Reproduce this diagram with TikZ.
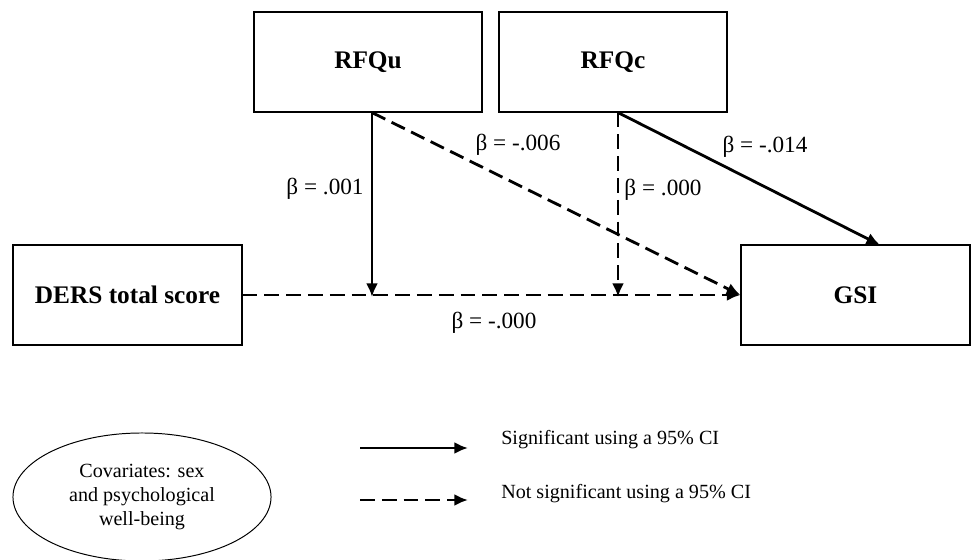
\documentclass[tikz,border=0pt]{standalone}
\usepackage{fontspec}
\setmainfont{Liberation Serif}
\usetikzlibrary{arrows.meta, shapes.geometric}

\tikzset{
  varbox/.style={draw, line width=0.8pt, minimum width=5.7cm, minimum height=2.5cm, inner sep=0pt, font=\fontsize{18}{22}\selectfont\bfseries},
  sigpath/.style={line width=2pt, -{Latex[length=3.4mm, width=3mm]}},
  nspath/.style={sigpath, dash pattern=on 10.5pt off 5pt},
  coef/.style={font=\fontsize{16.5}{20}\selectfont, inner sep=1pt},
  legtext/.style={font=\fontsize{14.3}{17}\selectfont, anchor=west, inner sep=0pt}
}

\begin{document}
\begin{tikzpicture}[x=0.025cm, y=-0.025cm]
  \useasboundingbox (0,0) rectangle (973,559);
  % variables
  \node[varbox] (RFQu) at (368,62) {RFQu};
  \node[varbox] (RFQc) at (613,62) {RFQc};
  \node[varbox, minimum width=5.725cm] (DERS) at (127.5,295) {DERS total score};
  \node[varbox, minimum width=5.725cm] (GSI) at (855.5,295) {GSI};
  \node[draw, ellipse, line width=0.7pt, minimum width=6.45cm, minimum height=3.2cm, align=center,
        font=\fontsize{14.3}{16.8}\selectfont] (cov) at (142,497) {Covariates: sex\\and psychological\\well-being};

  % meeting points on the main path
  \coordinate (ju) at (372,297);
  \coordinate (jc) at (618,297);
  \coordinate (gn) at (880,245);

  % paths
  \draw[nspath] (DERS.east) -- (GSI.west);
  \draw[sigpath] (ju |- RFQu.south) -- (ju);
  \draw[nspath] (ju |- RFQu.south) -- (GSI.west);
  \draw[nspath] (jc |- RFQc.south) -- (jc);
  \draw[sigpath] (jc |- RFQc.south) -- (gn);

  % coefficients
  \node[coef] (bu) at (325,189) {β = .001};
  \node[coef] (bud) at (518,145) {β = -.006};
  \node[coef] (bc) at (663,190) {β = .000};
  \node[coef] (bcd) at (765,147) {β = -.014};
  \node[coef] (bx) at (494,323) {β = -.000};

  % legend
  \coordinate (ls1) at (360,448);
  \coordinate (le1) at (468,448);
  \coordinate (ls2) at (360,500);
  \coordinate (le2) at (468,500);
  \draw[sigpath] (ls1) -- (le1);
  \draw[nspath] (ls2) -- (le2);
  \node[legtext] (lsig) at (501,440) {Significant using a 95\% CI};
  \node[legtext] (lns) at (501,494) {Not significant using a 95\% CI};
\end{tikzpicture}
\end{document}
